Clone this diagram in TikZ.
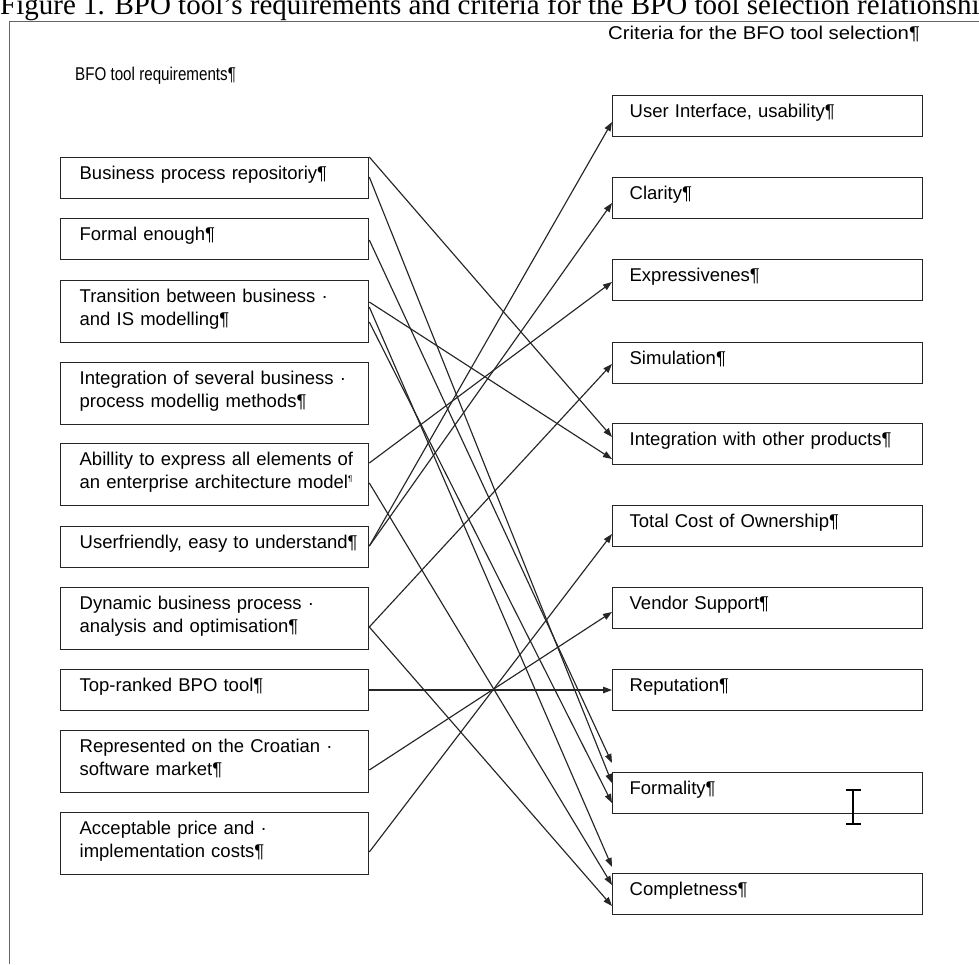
\documentclass[tikz,border=0pt]{standalone}
\usepackage{fontspec}
\setmainfont{Liberation Sans}
\newfontfamily\capfont{Liberation Serif}
\usetikzlibrary{arrows.meta}
\newcommand\oneline[1]{\mbox{#1}}
\begin{document}
\begin{tikzpicture}[x=1pt,y=-1pt,
  every node/.style={inner sep=0pt},
  boxtext/.style={font=\fontsize{18.5}{23}\selectfont},
  lbox/.style={boxtext, draw=black!85, line width=1.3pt, anchor=north west,
    inner xsep=19pt, inner ysep=0pt, text width=270pt, align=left,
    text height=22pt, text depth=19pt},
  lbox2/.style={lbox, text depth=40pt},
  rbox/.style={boxtext, draw=black!85, line width=1.3pt, anchor=north west,
    inner xsep=17pt, inner ysep=0pt, text width=276pt, align=left,
    text height=22pt, text depth=19pt},
  conn/.style={draw=black!85, line width=1.15pt, -{Triangle[length=9pt,width=6.5pt]}},
  hdr/.style={boxtext, anchor=base west}
]
\useasboundingbox (0,0) rectangle (979,964);
\begin{scope}
\clip (0,0) rectangle (979,964);
\node[anchor=base west, font=\capfont\fontsize{29}{29}\selectfont] (cap) at (0,14)
  {Figure 1. BPO tool’s requirements and criteria for the BPO tool selection relationship};
\end{scope}
\coordinate (ftl) at (9,21);
\coordinate (ftr) at (979,21);
\coordinate (fbl) at (9,964);
\draw[black!60, line width=1pt] (ftr) -- (ftl) -- (fbl);

\node[hdr] (hc) at (608,39) {\scalebox{1.1}[1]{Criteria for the BFO tool selection¶}};
\node[hdr] (hr) at (75,80) {\scalebox{0.82}[1]{BFO tool requirements¶}};

% left boxes
\node[lbox]  (l1)  at (60,157) {\oneline{Business process repositoriy¶}};
\node[lbox]  (l2)  at (60,218) {\oneline{Formal enough¶}};
\node[lbox2] (l3)  at (60,280) {\oneline{Transition between business ·}\\\oneline{and IS modelling¶}};
\node[lbox2] (l4)  at (60,362) {\oneline{Integration of several business ·}\\\oneline{process modellig methods¶}};
\node[lbox2] (l5)  at (60,443) {\oneline{Abillity to express all elements of}\\\oneline{an enterprise architecture model{\fontsize{8}{8}\selectfont\raisebox{7pt}{¶}}}};
\node[lbox]  (l6)  at (60,526) {\oneline{Userfriendly, easy to understand¶}};
\node[lbox2] (l7)  at (60,587) {\oneline{Dynamic business process ·}\\\oneline{analysis and optimisation¶}};
\node[lbox]  (l8)  at (60,669) {\oneline{Top-ranked BPO tool¶}};
\node[lbox2] (l9)  at (60,730) {\oneline{Represented on the Croatian ·}\\\oneline{software market¶}};
\node[lbox2] (l10) at (60,812) {\oneline{Acceptable price and ·}\\\oneline{implementation costs¶}};

% right boxes
\node[rbox] (r1)  at (612,95)  {\oneline{User Interface, usability¶}};
\node[rbox] (r2)  at (612,177) {\oneline{Clarity¶}};
\node[rbox] (r3)  at (612,259) {\oneline{Expressivenes¶}};
\node[rbox] (r4)  at (612,342) {\oneline{Simulation¶}};
\node[rbox] (r5)  at (612,423) {\oneline{Integration with other products¶}};
\node[rbox] (r6)  at (612,505) {\oneline{Total Cost of Ownership¶}};
\node[rbox] (r7)  at (612,587) {\oneline{Vendor Support¶}};
\node[rbox] (r8)  at (612,669) {\oneline{Reputation¶}};
\node[rbox] (r9)  at (612,772) {\oneline{Formality¶}};
\node[rbox] (r10) at (612,873) {\oneline{Completness¶}};

% connectors
\draw[conn] (l1.north east) -- ([yshift=-14pt]r5.north west);
\draw[conn] ([yshift=-20pt]l1.north east) -- ([yshift=-11pt]r9.north west);
\draw[conn] ([yshift=-22pt]l2.north east) -- ([yshift=9pt]r9.north west);
\draw[conn] ([yshift=-22pt]l3.north east) -- ([yshift=-36pt]r5.north west);
\draw[conn] ([yshift=-27pt]l3.north east) -- ([yshift=6pt]r10.north west);
\draw[conn] ([yshift=-42pt]l3.north east) -- ([yshift=-31pt]r9.north west);
\draw[conn] ([yshift=-20pt]l5.north east) -- ([yshift=-23pt]r3.north west);
\draw[conn] ([yshift=-40pt]l5.north east) -- ([yshift=-12pt]r10.north west);
\draw[conn] ([yshift=-20pt]l6.north east) -- ([yshift=-27pt]r1.north west);
\draw[conn] ([yshift=-20pt]l6.north east) -- ([yshift=-26pt]r2.north west);
\draw[conn] ([yshift=-40pt]l7.north east) -- ([yshift=-22pt]r4.north west);
\draw[conn] ([yshift=-40pt]l7.north east) -- ([yshift=-33pt]r10.north west);
\draw[conn] ([yshift=-21pt]l8.north east) -- ([yshift=-21pt]r8.north west);
\draw[conn] ([yshift=-40pt]l9.north east) -- ([yshift=-25pt]r7.north west);
\draw[conn] ([yshift=-40pt]l10.north east) -- ([yshift=-29pt]r6.north west);

% text cursor (I-beam)
\coordinate (ib1) at (853,791);
\coordinate (ib2) at (853,823);
\coordinate (ibt1) at (846,790);
\coordinate (ibt2) at (861,790);
\coordinate (ibb1) at (846,824);
\coordinate (ibb2) at (861,824);
\draw[black, line width=1.2pt] (ib1) -- (ib2) (ibt1) -- (ibt2) (ibb1) -- (ibb2);
\end{tikzpicture}
\end{document}
